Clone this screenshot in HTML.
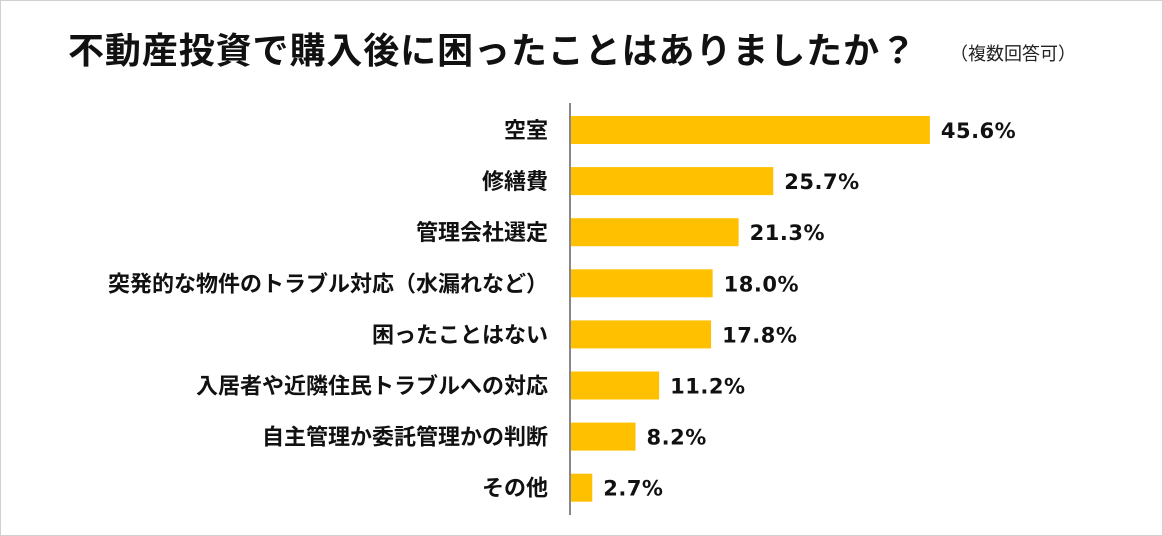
<!DOCTYPE html>
<html><head><meta charset="utf-8">
<style>
body{margin:0;width:1163px;height:536px;background:#fff;overflow:hidden;font-family:"Liberation Sans","Noto Sans CJK JP",sans-serif;}
#frame{position:absolute;left:0;top:0;width:1161px;height:534px;border:1px solid #d0d0d0;}
</style></head><body>
<div id="frame"></div>
<svg width="1163" height="536" style="position:absolute;left:0;top:0">
<text x="68" y="63" font-size="36" font-weight="bold" fill="#111" textLength="848" lengthAdjust="spacing" font-family="Liberation Sans, Noto Sans CJK JP, sans-serif">不動産投資で購入後に困ったことはありましたか？</text>
<text x="950" y="60" font-size="18" fill="#222" textLength="126" lengthAdjust="spacing" font-family="Liberation Sans, Noto Sans CJK JP, sans-serif">（複数回答可）</text>
<g id="bars"></g>
<line x1="570" y1="103" x2="570" y2="515" stroke="#888" stroke-width="2"/>
</svg>
<script>
const categories=["空室","修繕費","管理会社選定","突発的な物件のトラブル対応（水漏れなど）","困ったことはない","入居者や近隣住民トラブルへの対応","自主管理か委託管理かの判断","その他"];
const values=[45.6,25.7,21.3,18.0,17.8,11.2,8.2,2.7];
const valueLabels=["45.6%","25.7%","21.3%","18.0%","17.8%","11.2%","8.2%","2.7%"];
const x0=571, pxPer=7.87, y0=130, step=51.1, bh=28;
const xs=v=>x0+v*pxPer;
const ys=i=>y0+i*step;
const g=document.getElementById('bars');
const NS="http://www.w3.org/2000/svg";
categories.forEach((c,i)=>{
  const r=document.createElementNS(NS,'rect');
  r.setAttribute('x',x0);r.setAttribute('y',ys(i)-bh/2);
  r.setAttribute('width',xs(values[i])-x0);r.setAttribute('height',bh);
  r.setAttribute('fill','#FFC000');
  
  
  g.appendChild(r);
  const t=document.createElementNS(NS,'text');
  t.setAttribute('x',548);t.setAttribute('y',ys(i)+8);
  t.setAttribute('text-anchor','end');t.setAttribute('font-size','22');t.setAttribute('font-weight','bold');t.setAttribute('fill','#111');
  t.textContent=c;
  
  
  g.appendChild(t);
  const v=document.createElementNS(NS,'text');
  v.setAttribute('x',xs(values[i])+11);v.setAttribute('y',ys(i)+8);
  v.setAttribute('font-size','21');v.setAttribute('font-weight','bold');v.setAttribute('fill','#111');
  v.setAttribute('font-family','DejaVu Sans, sans-serif');
  v.setAttribute('letter-spacing','0.5');
  v.textContent=valueLabels[i];
  
  
  g.appendChild(v);
});
</script>
</body></html>
